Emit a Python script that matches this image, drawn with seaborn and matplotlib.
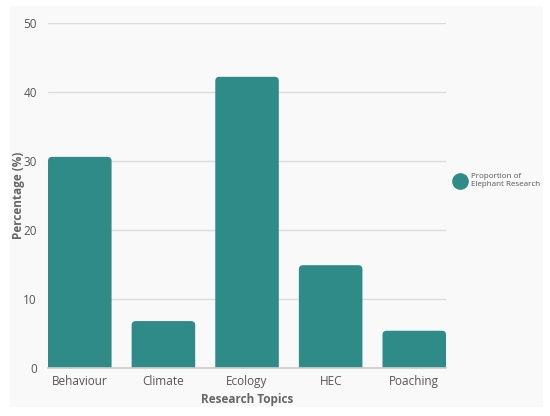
import matplotlib
matplotlib.use("Agg")
import matplotlib.pyplot as plt
import pandas as pd
import seaborn as sns
from matplotlib.lines import Line2D
from matplotlib.patches import FancyBboxPatch, Rectangle

topics = ["Behaviour", "Climate", "Ecology", "HEC", "Poaching"]
percentages = [30.6, 6.8, 42.2, 14.9, 5.4]
yticks = [0, 10, 20, 30, 40, 50]

BAR_COLOR = "#2e8b87"
TEXT_COLOR = "#555555"

sns.set_theme(style="white")
plt.rcParams["font.family"] = ["Open Sans", "DejaVu Sans"]

df = pd.DataFrame({"topic": topics, "pct": percentages})

fig = plt.figure(figsize=(5.5, 4.16), dpi=100)
fig.patch.set_facecolor("white")
fig.patches.append(Rectangle((0.018, 0.022), 0.969, 0.964, transform=fig.transFigure,
                             facecolor="#f9f9f9", edgecolor="none", zorder=-10))

ax = fig.add_axes([0.0873, 0.1154, 0.7237, 0.8293])
ax.set_facecolor("none")
sns.barplot(data=df, x="topic", y="pct", color=BAR_COLOR, width=0.76,
            saturation=1, linewidth=0, ax=ax, zorder=3)

ax.set_xlim(-0.38, 4.38)
ax.set_ylim(0, 50)

# round the top corners of the bars (bottom corners are hidden below y=0)
for bar in list(ax.patches):
    x, w, h = bar.get_x(), bar.get_width(), bar.get_height()
    rounded = FancyBboxPatch((x, -2), w, h + 2,
                             boxstyle="round,pad=0,rounding_size=0.05",
                             mutation_aspect=12.1, facecolor=BAR_COLOR,
                             edgecolor="none", zorder=3)
    bar.remove()
    ax.add_patch(rounded)

ax.set_yticks(yticks)
ax.yaxis.grid(True, color="#dddddd", linewidth=1)
ax.set_axisbelow(True)
for side in ["top", "right", "left"]:
    ax.spines[side].set_visible(False)
ax.spines["bottom"].set_color("#cccccc")
ax.spines["bottom"].set_zorder(4)
ax.tick_params(axis="both", length=0, labelsize=8.5, colors=TEXT_COLOR)
ax.tick_params(axis="y", pad=8)
ax.tick_params(axis="x", pad=5)

ax.set_xlabel("Research Topics", fontsize=8.5, fontweight="bold", color="#666666", labelpad=4)
ax.set_ylabel("Percentage (%)", fontsize=8.5, fontweight="bold", color="#666666")
ax.yaxis.set_label_coords(-0.058, 0.5)

handle = Line2D([], [], marker="o", linestyle="none", markersize=11,
                markerfacecolor=BAR_COLOR, markeredgecolor=BAR_COLOR)
fig.legend([handle], ["Proportion of\nElephant Research"], loc="center left",
           bbox_to_anchor=(0.815, 0.565), frameon=False, fontsize=5.8,
           labelcolor=TEXT_COLOR, handletextpad=0.7, handlelength=1.2)

fig.savefig("out.png", dpi=100)
